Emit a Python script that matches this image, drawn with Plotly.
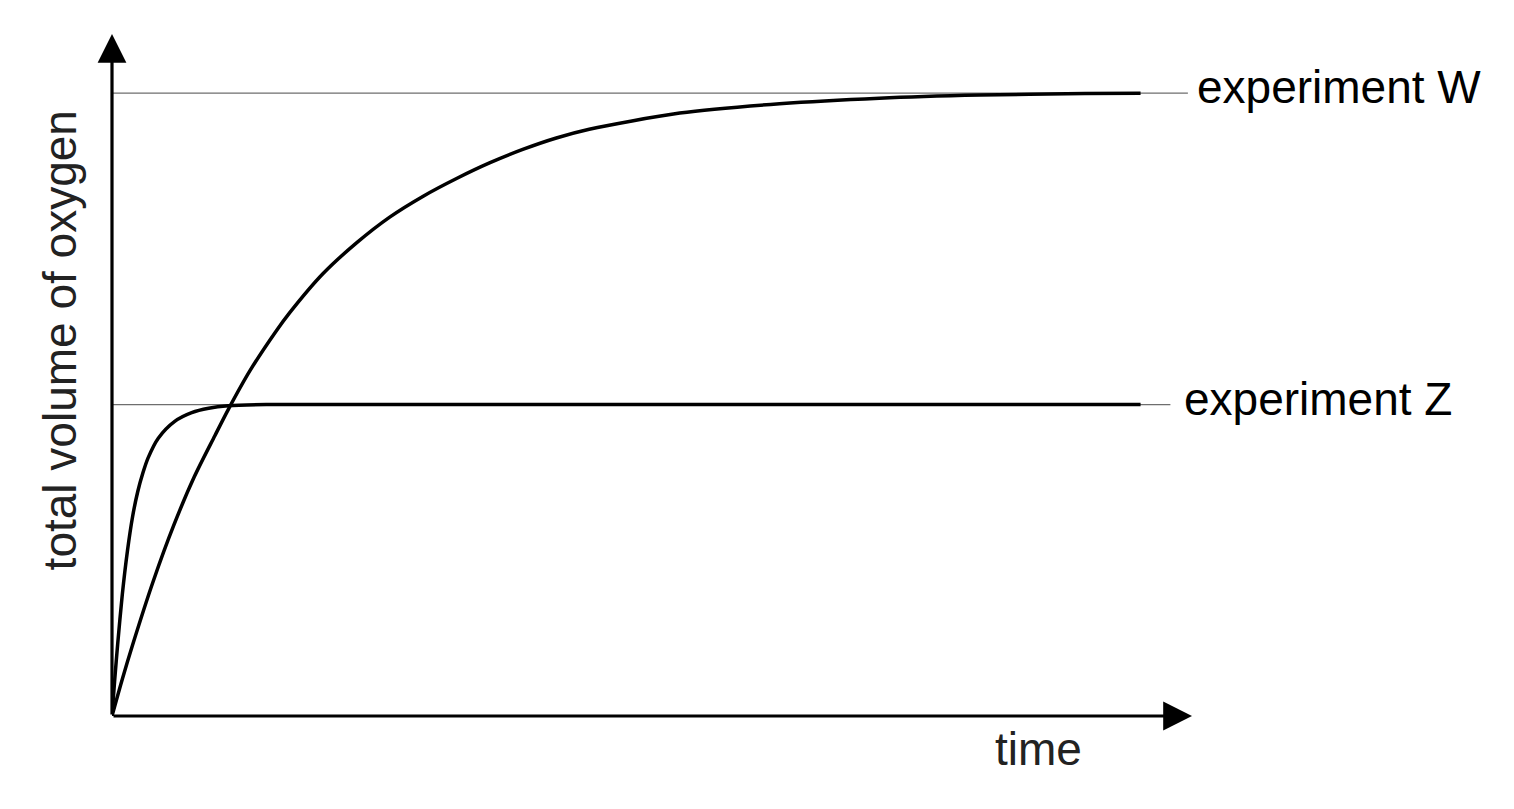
import plotly.graph_objects as go

# curve readings (time and volume in arbitrary units)
time_w = [0, 1, 2, 4, 6, 8, 10, 11.3, 13.4, 16.0, 17.3, 20.5, 23.8,
          27.0, 30.3, 33.5, 36.7, 40.0, 43.2, 46.4, 55.2, 64.9, 74.6, 84.4, 94.6, 100]
volume_w = [0, 5.9, 11.4, 21.6, 30.6, 38.4, 45.0, 49.2, 55.4, 61.9, 64.8, 71.0, 76.0,
            80.1, 83.5, 86.3, 88.8, 91.0, 92.8, 94.2, 96.8, 98.3, 99.2, 99.7, 99.95, 100]

time_z = [0, 0.25, 0.55, 1.0, 1.5, 2.0, 2.5, 3.0, 3.5, 4.5, 6.1, 7.75, 9.4, 11.3,
          15, 20, 40, 60, 80, 100]
volume_z = [0, 5.5, 11.5, 19.5, 26.5, 32.0, 36.0, 39.0, 41.4, 44.6, 47.3, 48.7, 49.4, 49.8,
            50, 50, 50, 50, 50, 50]

labels = ['experiment W', 'experiment Z']
plateaus = [100, 50]

font_name = 'Liberation Sans, Arial, sans-serif'

fig = go.Figure()

# thin guide lines at the final volumes
guide_ends = [104.6, 102.9]
for level, end in zip(plateaus, guide_ends):
    fig.add_trace(go.Scatter(
        x=[0, end], y=[level, level],
        mode='lines',
        line=dict(color='#6e6e6e', width=1.4),
        hoverinfo='skip',
        showlegend=False
    ))

fig.add_trace(go.Scatter(
    x=time_w, y=volume_w,
    mode='lines', name=labels[0],
    line=dict(color='black', width=3.5, shape='spline', smoothing=0.8),
    showlegend=False
))
fig.add_trace(go.Scatter(
    x=time_z, y=volume_z,
    mode='lines', name=labels[1],
    line=dict(color='black', width=3.5, shape='spline', smoothing=0.8),
    showlegend=False
))

annotations = []
# axes drawn as arrows
annotations.append(dict(x=105, y=0, ax=0, ay=0, xref='x', yref='y', axref='x', ayref='y',
                        text='', showarrow=True, arrowhead=2, arrowsize=1.8,
                        arrowwidth=3.2, arrowcolor='black', standoff=0))
annotations.append(dict(x=0, y=109.5, ax=0, ay=0, xref='x', yref='y', axref='x', ayref='y',
                        text='', showarrow=True, arrowhead=2, arrowsize=1.8,
                        arrowwidth=3.2, arrowcolor='black', standoff=0))

label_x = [1.0028, 0.9905]
label_y = [100 / 109.5, 50 / 109.5]
for text, lx, ly in zip(labels, label_x, label_y):
    annotations.append(dict(x=lx, y=ly, xref='paper', yref='paper', text=text,
                            showarrow=False, xanchor='left', yanchor='middle', yshift=6,
                            font=dict(family=font_name, size=46, color='black')))

annotations.append(dict(x=90.1, y=0, xref='x', yref='paper', text='time',
                        showarrow=False, xanchor='center', yanchor='top', yshift=-5,
                        font=dict(family=font_name, size=46, color='#222222')))
annotations.append(dict(x=-0.048, y=0.551, xref='paper', yref='paper',
                        text='total volume of oxygen', textangle=-90,
                        showarrow=False, xanchor='center', yanchor='middle',
                        font=dict(family=font_name, size=46, color='#222222')))

fig.update_layout(
    width=1506, height=801,
    margin=dict(l=104, r=322, t=26, b=93),
    paper_bgcolor='white', plot_bgcolor='white',
    annotations=annotations,
    xaxis=dict(range=[0, 105], showgrid=False, zeroline=False, showticklabels=False,
               showline=False, ticks=''),
    yaxis=dict(range=[0, 109.5], showgrid=False, zeroline=False, showticklabels=False,
               showline=False, ticks=''),
)

fig.write_html('out.html')
